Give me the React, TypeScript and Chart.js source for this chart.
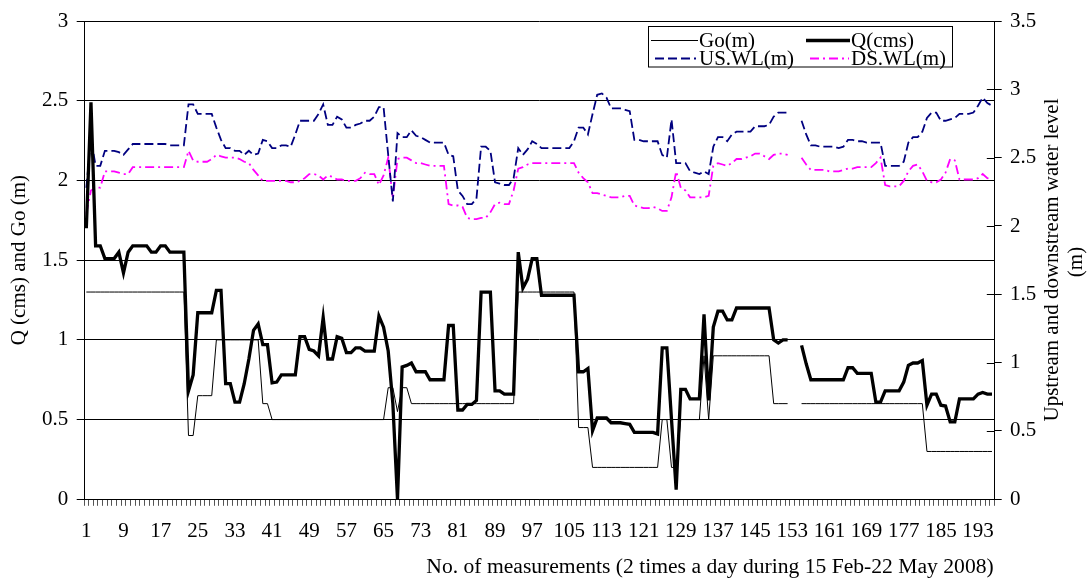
import React, { useEffect, useRef } from 'react';
import { Chart, registerables } from 'chart.js';

Chart.register(...registerables);

const FONT = "'Liberation Serif', 'Times New Roman', serif";

// measurement numbers 1..196
const CATEGORIES: string[] = Array.from({ length: 196 }, (_, i) => String(i + 1));
const TICK_LABELS = ['1', '9', '17', '25', '33', '41', '49', '57', '65', '73', '81', '89', '97', '105', '113', '121', '129', '137', '145', '153', '161', '169', '177', '185', '193'];

const Y_LEFT_TITLE = 'Q (cms) and Go (m)';
const Y_RIGHT_TITLE = ['Upstream and downstream water level', '(m)'];
const X_TITLE = 'No. of measurements (2 times a day during 15 Feb-22 May 2008)';

const Q_CMS: (number | null)[] = [
  1.70, 2.49, 1.59, 1.59, 1.51, 1.51, 1.51, 1.55, 1.42, 1.55,
  1.59, 1.59, 1.59, 1.59, 1.55, 1.55, 1.59, 1.59, 1.55, 1.55,
  1.55, 1.55, 0.68, 0.78, 1.17, 1.17, 1.17, 1.17, 1.31, 1.31,
  0.725, 0.725, 0.61, 0.61, 0.725, 0.88, 1.06, 1.10, 0.97, 0.97,
  0.73, 0.735, 0.78, 0.78, 0.78, 0.78, 1.02, 1.02, 0.94, 0.93,
  0.90, 1.14, 0.88, 0.88, 1.02, 1.01, 0.92, 0.92, 0.95, 0.95,
  0.93, 0.93, 0.93, 1.15, 1.08, 0.93, 0.60, 0.00, 0.83, 0.84,
  0.855, 0.80, 0.80, 0.80, 0.75, 0.75, 0.75, 0.75, 1.09, 1.09,
  0.56, 0.56, 0.595, 0.595, 0.62, 1.30, 1.30, 1.30, 0.68, 0.68,
  0.66, 0.66, 0.66, 1.55, 1.325, 1.38, 1.51, 1.51, 1.28, 1.28,
  1.28, 1.28, 1.28, 1.28, 1.28, 1.28, 0.80, 0.80, 0.82, 0.43,
  0.51, 0.51, 0.51, 0.48, 0.48, 0.48, 0.475, 0.47, 0.42, 0.42,
  0.42, 0.42, 0.42, 0.41, 0.95, 0.95, 0.50, 0.06, 0.69, 0.69,
  0.63, 0.63, 0.63, 1.16, 0.62, 1.08, 1.18, 1.18, 1.125, 1.125,
  1.20, 1.20, 1.20, 1.20, 1.20, 1.20, 1.20, 1.20, 1.00, 0.98,
  1.00, 1.00, null, null, 0.965, 0.85, 0.75, 0.75, 0.75, 0.75,
  0.75, 0.75, 0.75, 0.75, 0.825, 0.825, 0.79, 0.79, 0.79, 0.79,
  0.61, 0.61, 0.68, 0.68, 0.68, 0.68, 0.735, 0.84, 0.855, 0.855,
  0.87, 0.59, 0.66, 0.66, 0.59, 0.585, 0.485, 0.485, 0.63, 0.63,
  0.63, 0.63, 0.66, 0.67, 0.66, 0.66,
];

const GO_M: (number | null)[] = [
  1.30, 1.30, 1.30, 1.30, 1.30, 1.30, 1.30, 1.30, 1.30, 1.30,
  1.30, 1.30, 1.30, 1.30, 1.30, 1.30, 1.30, 1.30, 1.30, 1.30,
  1.30, 1.30, 0.40, 0.40, 0.65, 0.65, 0.65, 0.65, 1.00, 1.00,
  1.00, 1.00, 1.00, 1.00, 1.00, 1.00, 1.00, 1.00, 0.60, 0.60,
  0.50, 0.50, 0.50, 0.50, 0.50, 0.50, 0.50, 0.50, 0.50, 0.50,
  0.50, 0.50, 0.50, 0.50, 0.50, 0.50, 0.50, 0.50, 0.50, 0.50,
  0.50, 0.50, 0.50, 0.50, 0.50, 0.70, 0.70, 0.55, 0.70, 0.70,
  0.60, 0.60, 0.60, 0.60, 0.60, 0.60, 0.60, 0.60, 0.60, 0.60,
  0.60, 0.60, 0.60, 0.60, 0.60, 0.60, 0.60, 0.60, 0.60, 0.60,
  0.60, 0.60, 0.60, 1.30, 1.30, 1.30, 1.30, 1.30, 1.30, 1.30,
  1.30, 1.30, 1.30, 1.30, 1.30, 1.30, 0.45, 0.45, 0.45, 0.20,
  0.20, 0.20, 0.20, 0.20, 0.20, 0.20, 0.20, 0.20, 0.20, 0.20,
  0.20, 0.20, 0.20, 0.20, 0.50, 0.50, 0.20, 0.20, 0.50, 0.50,
  0.50, 0.50, 0.50, 0.90, 0.50, 0.90, 0.90, 0.90, 0.90, 0.90,
  0.90, 0.90, 0.90, 0.90, 0.90, 0.90, 0.90, 0.90, 0.60, 0.60,
  0.60, 0.60, null, null, 0.60, 0.60, 0.60, 0.60, 0.60, 0.60,
  0.60, 0.60, 0.60, 0.60, 0.60, 0.60, 0.60, 0.60, 0.60, 0.60,
  0.60, 0.60, 0.60, 0.60, 0.60, 0.60, 0.60, 0.60, 0.60, 0.60,
  0.60, 0.30, 0.30, 0.30, 0.30, 0.30, 0.30, 0.30, 0.30, 0.30,
  0.30, 0.30, 0.30, 0.30, 0.30, 0.30,
];

const US_WL: (number | null)[] = [
  2.28, 2.64, 2.44, 2.44, 2.55, 2.55, 2.55, 2.54, 2.52, 2.56,
  2.60, 2.60, 2.60, 2.60, 2.60, 2.60, 2.60, 2.60, 2.59, 2.59,
  2.59, 2.59, 2.89, 2.89, 2.82, 2.82, 2.82, 2.82, 2.72, 2.63,
  2.57, 2.57, 2.55, 2.55, 2.52, 2.55, 2.52, 2.53, 2.63, 2.62,
  2.57, 2.57, 2.59, 2.59, 2.58, 2.67, 2.77, 2.77, 2.77, 2.77,
  2.82, 2.89, 2.74, 2.74, 2.80, 2.78, 2.72, 2.72, 2.74, 2.75,
  2.77, 2.77, 2.80, 2.87, 2.87, 2.52, 2.18, 2.68, 2.65, 2.65,
  2.70, 2.66, 2.65, 2.63, 2.61, 2.61, 2.61, 2.61, 2.52, 2.51,
  2.26, 2.22, 2.16, 2.16, 2.20, 2.58, 2.58, 2.55, 2.32, 2.31,
  2.30, 2.30, 2.35, 2.57, 2.52, 2.56, 2.62, 2.60, 2.57, 2.57,
  2.57, 2.57, 2.57, 2.57, 2.57, 2.62, 2.72, 2.72, 2.67, 2.82,
  2.96, 2.97, 2.94, 2.86, 2.86, 2.86, 2.85, 2.84, 2.63, 2.63,
  2.62, 2.62, 2.62, 2.62, 2.52, 2.50, 2.78, 2.46, 2.46, 2.46,
  2.40, 2.39, 2.38, 2.40, 2.38, 2.58, 2.65, 2.65, 2.62, 2.67,
  2.69, 2.69, 2.69, 2.69, 2.73, 2.73, 2.73, 2.74, 2.80, 2.83,
  2.83, 2.83, null, null, 2.77, 2.67, 2.59, 2.59, 2.58, 2.58,
  2.58, 2.58, 2.57, 2.58, 2.63, 2.63, 2.62, 2.62, 2.61, 2.61,
  2.61, 2.61, 2.44, 2.44, 2.44, 2.44, 2.47, 2.61, 2.65, 2.65,
  2.69, 2.79, 2.83, 2.83, 2.77, 2.77, 2.78, 2.79, 2.82, 2.82,
  2.82, 2.83, 2.88, 2.94, 2.90, 2.88,
];

const DS_WL: (number | null)[] = [
  2.09, 2.26, 2.28, 2.28, 2.40, 2.40, 2.40, 2.39, 2.38, 2.38,
  2.43, 2.43, 2.43, 2.43, 2.43, 2.43, 2.43, 2.43, 2.43, 2.43,
  2.43, 2.43, 2.55, 2.48, 2.47, 2.47, 2.47, 2.49, 2.52, 2.51,
  2.50, 2.50, 2.50, 2.49, 2.47, 2.46, 2.41, 2.37, 2.33, 2.33,
  2.33, 2.33, 2.33, 2.33, 2.32, 2.32, 2.33, 2.35, 2.38, 2.38,
  2.37, 2.34, 2.37, 2.36, 2.34, 2.34, 2.33, 2.33, 2.33, 2.35,
  2.39, 2.38, 2.38, 2.30, 2.37, 2.50, 2.20, 2.49, 2.50, 2.50,
  2.48, 2.46, 2.46, 2.45, 2.44, 2.44, 2.44, 2.44, 2.16, 2.15,
  2.15, 2.14, 2.06, 2.05, 2.05, 2.06, 2.06, 2.10, 2.16, 2.17,
  2.16, 2.16, 2.26, 2.42, 2.43, 2.45, 2.46, 2.46, 2.46, 2.46,
  2.46, 2.46, 2.46, 2.46, 2.46, 2.46, 2.39, 2.35, 2.32, 2.24,
  2.24, 2.23, 2.22, 2.21, 2.21, 2.21, 2.22, 2.22, 2.15, 2.14,
  2.13, 2.13, 2.14, 2.13, 2.11, 2.11, 2.21, 2.40, 2.28, 2.26,
  2.21, 2.21, 2.21, 2.21, 2.22, 2.44, 2.46, 2.45, 2.44, 2.46,
  2.49, 2.49, 2.50, 2.51, 2.53, 2.53, 2.51, 2.49, 2.52, 2.53,
  2.53, 2.52, null, null, 2.50, 2.45, 2.41, 2.41, 2.41, 2.41,
  2.40, 2.40, 2.40, 2.41, 2.42, 2.42, 2.43, 2.43, 2.43, 2.43,
  2.46, 2.50, 2.30, 2.29, 2.29, 2.29, 2.33, 2.40, 2.44, 2.45,
  2.40, 2.33, 2.32, 2.32, 2.34, 2.39, 2.49, 2.48, 2.34, 2.34,
  2.34, 2.34, 2.35, 2.38, 2.35, 2.34,
];

const SERIES_NAMES = ['Go(m)', 'Q(cms)', 'US.WL(m)', 'DS.WL(m)'];

const STYLE = {
  go: { color: '#000000', width: 1, dash: [] as number[] },
  q: { color: '#000000', width: 3.3, dash: [] as number[] },
  us: { color: '#000080', width: 1.8, dash: [9, 4] },
  ds: { color: '#FF00FF', width: 1.8, dash: [9, 4, 2, 4] },
};

const overlayPlugin = {
  id: 'overlay',
  afterDraw(chart: any) {
    const ctx: CanvasRenderingContext2D = chart.ctx;
    const area = chart.chartArea;
    ctx.save();

    // right axis tick marks inside the plot
    const yR = chart.scales.y1;
    ctx.strokeStyle = '#000';
    ctx.lineWidth = 1;
    ctx.setLineDash([]);
    yR.ticks.forEach((t: any) => {
      const py = Math.round(yR.getPixelForValue(t.value)) + 0.5;
      ctx.beginPath();
      ctx.moveTo(area.right - 7.5, py);
      ctx.lineTo(area.right, py);
      ctx.stroke();
    });

    // axis titles
    ctx.fillStyle = '#000';
    ctx.font = `21px ${FONT}`;
    ctx.textAlign = 'center';
    ctx.textBaseline = 'middle';

    ctx.save();
    ctx.translate(19, (area.top + area.bottom) / 2);
    ctx.rotate(-Math.PI / 2);
    ctx.fillText(Y_LEFT_TITLE, 0, 0);
    ctx.restore();

    ctx.save();
    ctx.translate(1052, 260);
    ctx.rotate(-Math.PI / 2);
    ctx.fillText(Y_RIGHT_TITLE[0], 0, 0);
    ctx.restore();

    ctx.save();
    ctx.translate(1076, 262);
    ctx.rotate(-Math.PI / 2);
    ctx.fillText(Y_RIGHT_TITLE[1], 0, 0);
    ctx.restore();

    ctx.font = `21.6px ${FONT}`;
    ctx.fillText(X_TITLE, 710, 567);

    // legend
    const bx = 648.5, by = 26.5, bw = 304, bh = 40.5;
    ctx.fillStyle = '#fff';
    ctx.fillRect(bx, by, bw, bh);
    ctx.strokeStyle = '#000';
    ctx.lineWidth = 1;
    ctx.strokeRect(bx, by, bw, bh);

    const items = [
      { name: SERIES_NAMES[0], st: STYLE.go, x1: 651, x2: 698, tx: 699, y: 40.5 },
      { name: SERIES_NAMES[1], st: STYLE.q, x1: 806, x2: 850, tx: 851, y: 40.5 },
      { name: SERIES_NAMES[2], st: STYLE.us, x1: 655, x2: 696, tx: 699, y: 58.5 },
      { name: SERIES_NAMES[3], st: STYLE.ds, x1: 810, x2: 849, tx: 851, y: 58.5 },
    ];
    ctx.textAlign = 'left';
    ctx.font = `21px ${FONT}`;
    items.forEach((it) => {
      ctx.strokeStyle = it.st.color;
      ctx.lineWidth = it.st.width;
      ctx.setLineDash(it.st.dash);
      ctx.beginPath();
      ctx.moveTo(it.x1, it.y);
      ctx.lineTo(it.x2, it.y);
      ctx.stroke();
      ctx.setLineDash([]);
      ctx.fillStyle = '#000';
      ctx.fillText(it.name, it.tx, it.y + 0.5);
    });

    ctx.restore();
  },
};

export default function App() {
  const canvasRef = useRef<HTMLCanvasElement | null>(null);

  useEffect(() => {
    const canvas = canvasRef.current;
    if (!canvas) return;
    const tickFont = { family: FONT, size: 21 };
    const chart = new Chart(canvas, {
      type: 'line',
      data: {
        labels: CATEGORIES,
        datasets: [
          {
            label: SERIES_NAMES[1], data: Q_CMS, yAxisID: 'y', order: 0,
            borderColor: STYLE.q.color, borderWidth: STYLE.q.width, borderDash: STYLE.q.dash,
            pointRadius: 0, tension: 0, spanGaps: false, fill: false,
            borderJoinStyle: 'miter', borderCapStyle: 'butt',
          },
          {
            label: SERIES_NAMES[0], data: GO_M, yAxisID: 'y', order: 1,
            borderColor: STYLE.go.color, borderWidth: STYLE.go.width, borderDash: STYLE.go.dash,
            pointRadius: 0, tension: 0, spanGaps: false, fill: false,
          },
          {
            label: SERIES_NAMES[2], data: US_WL, yAxisID: 'y1', order: 2,
            borderColor: STYLE.us.color, borderWidth: STYLE.us.width, borderDash: STYLE.us.dash,
            pointRadius: 0, tension: 0, spanGaps: false, fill: false,
          },
          {
            label: SERIES_NAMES[3], data: DS_WL, yAxisID: 'y1', order: 3,
            borderColor: STYLE.ds.color, borderWidth: STYLE.ds.width, borderDash: STYLE.ds.dash,
            pointRadius: 0, tension: 0, spanGaps: false, fill: false,
          },
        ],
      },
      options: {
        responsive: false,
        animation: false,
        layout: { padding: { top: 19.3, left: 0, right: 0, bottom: 0 } },
        plugins: {
          legend: { display: false },
          tooltip: { enabled: false },
        },
        scales: {
          x: {
            type: 'category',
            offset: true,
            grid: { drawOnChartArea: false, offset: true, tickLength: 6.5, color: '#555', lineWidth: 1 },
            border: { display: true, color: '#000', width: 1 },
            ticks: {
              autoSkip: false, maxRotation: 0, minRotation: 0, padding: 13, color: '#000', font: tickFont,
              callback: (_v: any, i: number) => (TICK_LABELS.includes(CATEGORIES[i]) ? CATEGORIES[i] : ''),
            },
            afterFit: (s: any) => { s.height = 78.7; },
          },
          y: {
            position: 'left', min: 0, max: 3,
            ticks: { stepSize: 0.5, padding: 8.4, color: '#000', font: tickFont, callback: (v: any) => String(Number(v)) },
            grid: { color: '#000', lineWidth: 1, tickLength: 7.3 },
            border: { display: true, color: '#000', width: 1 },
            afterFit: (s: any) => { s.width = 84; },
          },
          y1: {
            position: 'right', min: 0, max: 3.5,
            ticks: { stepSize: 0.5, padding: 8.3, color: '#000', font: tickFont, callback: (v: any) => String(Number(v)) },
            grid: { drawOnChartArea: false, color: '#000', lineWidth: 1, tickLength: 7.4 },
            border: { display: true, color: '#000', width: 1 },
            afterFit: (s: any) => { s.width = 95.7; },
          },
        },
      } as any,
      plugins: [overlayPlugin],
    });
    return () => chart.destroy();
  }, []);

  return (
    <div style={{ position: 'fixed', left: 0, top: 0, width: 1090, height: 578, background: '#fff' }}>
      <canvas ref={canvasRef} width={1090} height={578} style={{ display: 'block' }} />
    </div>
  );
}
